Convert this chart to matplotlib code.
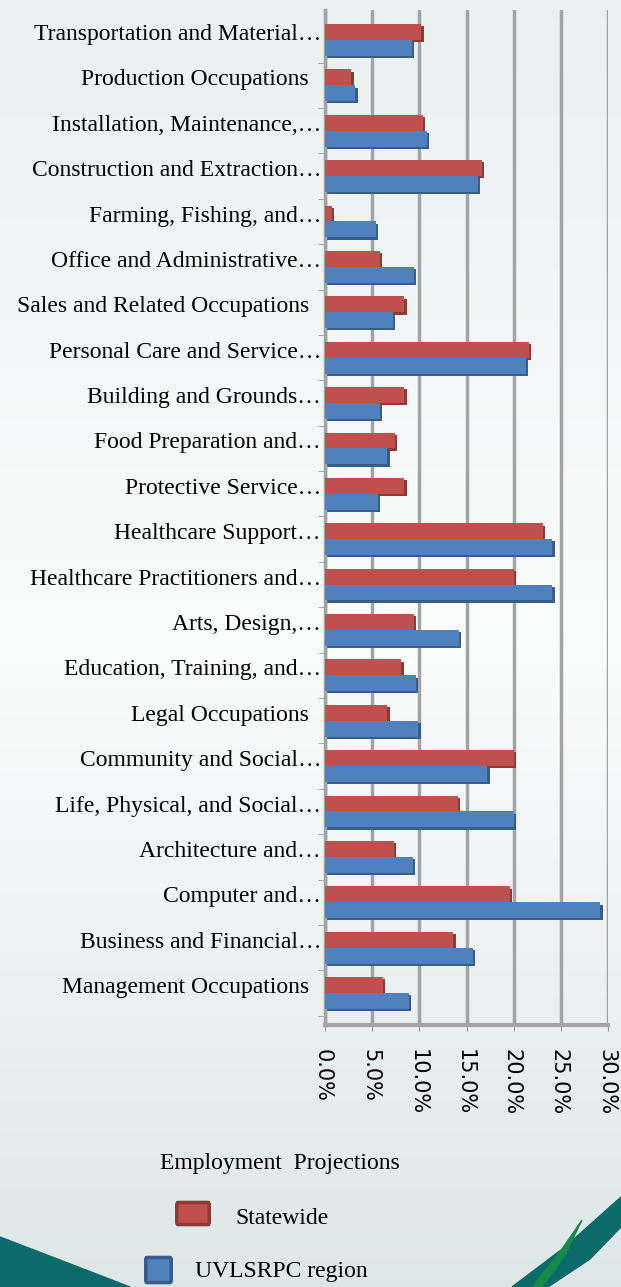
import numpy as np
import matplotlib.pyplot as plt
from matplotlib.patches import Polygon, FancyBboxPatch
from matplotlib.transforms import blended_transform_factory, ScaledTranslation

# categories from bottom to top
labels = ['Management Occupations', 'Business and Financial\u2026', 'Computer and\u2026',
          'Architecture and\u2026', 'Life, Physical, and Social\u2026', 'Community and Social\u2026',
          'Legal Occupations', 'Education, Training, and\u2026', 'Arts, Design,\u2026',
          'Healthcare Practitioners and\u2026', 'Healthcare Support\u2026', 'Protective Service\u2026',
          'Food Preparation and\u2026', 'Building and Grounds\u2026', 'Personal Care and Service\u2026',
          'Sales and Related Occupations', 'Office and Administrative\u2026', 'Farming, Fishing, and\u2026',
          'Construction and Extraction\u2026', 'Installation, Maintenance,\u2026', 'Production Occupations',
          'Transportation and Material\u2026']
statewide = [6.1, 13.6, 19.6, 7.3, 14.1, 20.0, 6.6, 8.1, 9.4, 20.0, 23.1, 8.4,
             7.4, 8.4, 21.6, 8.4, 5.8, 0.7, 16.6, 10.4, 2.8, 10.2]
region = [8.9, 15.7, 29.2, 9.3, 20.0, 17.2, 9.9, 9.6, 14.2, 24.1, 24.1, 5.6,
          6.6, 5.8, 21.3, 7.2, 9.4, 5.4, 16.2, 10.8, 3.2, 9.2]
xticks = [0, 5, 10, 15, 20, 25, 30]

W, H = 621, 1287
fig = plt.figure(figsize=(W / 100, H / 100), dpi=100)

# background gradient
bg = fig.add_axes([0, 0, 1, 1], zorder=-10)
top_c = np.array([0.92, 0.94, 0.94])
mid_c = np.array([0.985, 0.99, 0.99])
bot_c = np.array([0.87, 0.905, 0.905])
rows = []
for t in np.linspace(0, 1, 200):
    if t < 0.5:
        c = top_c + (mid_c - top_c) * (t / 0.5)
    else:
        c = mid_c + (bot_c - mid_c) * ((t - 0.5) / 0.5)
    rows.append(c)
bg.imshow(np.array(rows)[:, None, :], aspect='auto', extent=[0, W, 0, H])
# decorative swooshes (pixel coords, y up)
bg.add_patch(Polygon([[0, 50], [0, 0], [130, 0], [60, 27]], closed=True, color='#0b6a6a'))
bg.add_patch(Polygon([[512, 0], [565, 40], [621, 90], [621, 60], [590, 28], [548, 0]],
                     closed=True, color='#0b6a6a'))
bg.add_patch(Polygon([[532, 0], [560, 35], [582, 67], [565, 32], [542, 0]],
                     closed=True, color='#138a4a'))
bg.set_xlim(0, W)
bg.set_ylim(0, H)
bg.axis('off')

ax = fig.add_axes([325 / W, (H - 1025) / H, (608 - 325) / W, (1025 - 10) / H])
ax.set_facecolor('none')

y = np.arange(len(labels))
h = 0.35
# darker underside / end faces for a 3D look
ax.barh(y + h / 2 - 0.05, np.array(statewide) + 0.25, height=h, color='#8e3a38', zorder=2)
ax.barh(y - h / 2 - 0.05, np.array(region) + 0.25, height=h, color='#385d8a', zorder=2)
ax.barh(y + h / 2, statewide, height=h, color='#c0504d', zorder=3)
ax.barh(y - h / 2, region, height=h, color='#4f81bd', zorder=3)

ax.set_xlim(0, 30)
ax.set_ylim(-0.705, 21.66)
ax.set_xticks(xticks)
ax.set_xticklabels(['%.1f%%' % v for v in xticks], rotation=270, fontsize=15,
                   family='DejaVu Sans')
ax.tick_params(axis='x', length=4, color='#999999', pad=13)
# nudge tick labels slightly left so the last one fits
for t in ax.get_xticklabels():
    t.set_transform(t.get_transform() + ScaledTranslation(-2 / 100, 0, fig.dpi_scale_trans))
ax.grid(axis='x', color='#a3a3a3', lw=2.5, zorder=1)
ax.set_yticks([])
ax.set_yticks(y - 0.5, minor=True)
ax.tick_params(axis='y', which='minor', length=5, color='#999999')
for s in ['top', 'right']:
    ax.spines[s].set_visible(False)
ax.spines['left'].set_color('#a3a3a3')
ax.spines['left'].set_linewidth(2.5)
ax.spines['bottom'].set_color('#a3a3a3')
ax.spines['bottom'].set_linewidth(3)

trans = blended_transform_factory(fig.transFigure, ax.transData)
for i, lab in enumerate(labels):
    xr = 321 if lab.endswith('\u2026') else 309
    ax.text(xr / W, i + 0.12, lab, transform=trans, ha='right', va='center',
            fontsize=17, family='Liberation Serif')

# legend
fig.text(280 / W, 1 - 1163 / H, 'Employment  Projections', ha='center', va='center',
         fontsize=17, family='Liberation Serif')
fig.patches.append(FancyBboxPatch((178 / W, 1 - 1222 / H), 30 / W, 17 / H,
                                  boxstyle='round,pad=0.002', transform=fig.transFigure,
                                  facecolor='#c0504d', edgecolor='#8e3a38', lw=2.5))
fig.text(235 / W, 1 - 1218 / H, 'Statewide', ha='left', va='center',
         fontsize=17, family='Liberation Serif')
fig.patches.append(FancyBboxPatch((147 / W, 1 - 1280 / H), 23 / W, 20 / H,
                                  boxstyle='round,pad=0.002', transform=fig.transFigure,
                                  facecolor='#4f81bd', edgecolor='#385d8a', lw=2.5))
fig.text(195 / W, 1 - 1271 / H, 'UVLSRPC region', ha='left', va='center',
         fontsize=17, family='Liberation Serif')

fig.savefig('out.png', dpi=100)
